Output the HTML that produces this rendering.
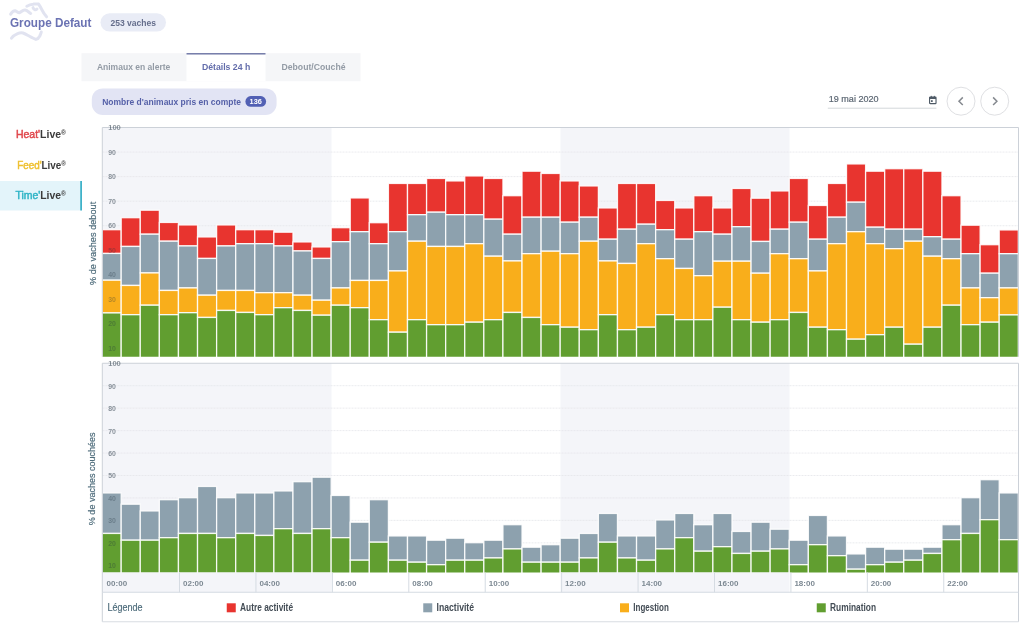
<!DOCTYPE html>
<html lang="fr"><head><meta charset="utf-8"><title>Time'Live</title>
<style>
html,body{margin:0;padding:0;background:#fff}
body{width:1024px;height:628px;position:relative;overflow:hidden;font-family:"Liberation Sans",sans-serif}
</style></head><body>
<svg width="1024" height="628" viewBox="0 0 1024 628" style="position:absolute;left:0;top:0">
<g fill="none" stroke="#dadded" stroke-width="3" stroke-linecap="round" stroke-linejoin="round" opacity="0.8"><path d="M10.7 14.1 C12 12 14 10.5 15.5 10.8 C17 11.5 18 13 19.5 12.8 C21 12 23 9.5 25.2 10 C27.5 10.5 29 12.5 30.6 13.5"/><path d="M26.8 6.3 C29 5 31 4.3 33 4.2 C35 4 37 3.7 38.5 4 C40 6 41 8 42 10 C43.5 13 45 15 46.6 16.8"/><path d="M33 7.6 C33.5 9.5 35.5 10.5 37 9"/><path d="M11.5 38.2 C13 36 15.5 34.5 17.6 33.6 C19.5 32.8 21.5 32.6 23 33 C26 34 28 35.5 30.6 36.8 C33 38 34.5 39.2 36 39.4 C38 39 39.3 37 39.8 36 C40.5 34.5 41 33 41.3 32"/></g>
<text x="10.00" y="26.80" font-family="Liberation Sans, sans-serif" font-size="12.5" font-weight="bold" fill="#6b73b3" textLength="81.40" lengthAdjust="spacingAndGlyphs">Groupe Defaut</text>
<rect x="100.50" y="13.20" width="65.50" height="18.40" fill="#e9ecf6" rx="9.2"/>
<text x="110.40" y="26.00" font-family="Liberation Sans, sans-serif" font-size="9" font-weight="bold" fill="#656e8c" textLength="45.60" lengthAdjust="spacingAndGlyphs">253 vaches</text>
<rect x="81.50" y="53.20" width="279.00" height="28.00" fill="#f5f6f8"/>
<rect x="186.50" y="53.20" width="79.00" height="28.00" fill="#ffffff"/>
<rect x="186.50" y="53.10" width="79.00" height="1.40" fill="#6a72a2"/>
<text x="96.90" y="70.00" font-family="Liberation Sans, sans-serif" font-size="9.5" font-weight="bold" fill="#939ba5" textLength="73.40" lengthAdjust="spacingAndGlyphs">Animaux en alerte</text>
<text x="201.90" y="70.00" font-family="Liberation Sans, sans-serif" font-size="9.5" font-weight="bold" fill="#636dab" textLength="48.40" lengthAdjust="spacingAndGlyphs">Détails 24 h</text>
<text x="281.50" y="70.00" font-family="Liberation Sans, sans-serif" font-size="9.5" font-weight="bold" fill="#939ba5" textLength="64.00" lengthAdjust="spacingAndGlyphs">Debout/Couché</text>
<rect x="91.80" y="88.40" width="184.80" height="26.60" fill="#e2e4f4" rx="11"/>
<text x="102.20" y="104.70" font-family="Liberation Sans, sans-serif" font-size="9.5" font-weight="bold" fill="#5560a8" textLength="138.80" lengthAdjust="spacingAndGlyphs">Nombre d'animaux pris en compte</text>
<rect x="245.40" y="96.10" width="20.70" height="10.60" fill="#5260b4" rx="5.3"/>
<text x="249.60" y="103.80" font-family="Liberation Sans, sans-serif" font-size="6.3" font-weight="bold" fill="#ffffff" textLength="12.30" lengthAdjust="spacingAndGlyphs">136</text>
<rect x="0.00" y="181.00" width="80.20" height="29.50" fill="#e3f4fa"/>
<rect x="80.20" y="181.00" width="1.80" height="29.50" fill="#3fb2c9"/>
<text x="15.9" y="138.3" font-family="Liberation Sans, sans-serif" font-size="10.2" fill="#3b3b3b" textLength="50.10" lengthAdjust="spacingAndGlyphs"><tspan fill="#e0474c" stroke="#e0474c" stroke-width="0.45">Heat'</tspan><tspan font-weight="bold">Live</tspan><tspan font-size="6.5" dy="-3" font-weight="bold">®</tspan></text>
<text x="17.2" y="168.8" font-family="Liberation Sans, sans-serif" font-size="10.2" fill="#3b3b3b" textLength="48.80" lengthAdjust="spacingAndGlyphs"><tspan fill="#efc02f" stroke="#efc02f" stroke-width="0.45">Feed'</tspan><tspan font-weight="bold">Live</tspan><tspan font-size="6.5" dy="-3" font-weight="bold">®</tspan></text>
<text x="15.4" y="198.6" font-family="Liberation Sans, sans-serif" font-size="10.2" fill="#3b3b3b" textLength="50.60" lengthAdjust="spacingAndGlyphs"><tspan fill="#2fb4c6" stroke="#2fb4c6" stroke-width="0.45">Time'</tspan><tspan font-weight="bold">Live</tspan><tspan font-size="6.5" dy="-3" font-weight="bold">®</tspan></text>
<text x="828.80" y="102.20" font-family="Liberation Sans, sans-serif" font-size="9.6" font-weight="normal" fill="#5b6672" textLength="49.70" lengthAdjust="spacingAndGlyphs" stroke="#5b6672" stroke-width="0.2">19 mai 2020</text>
<rect x="827.80" y="107.70" width="108.60" height="1.00" fill="#d3d7db"/>
<g transform="translate(932.8,99.85) scale(0.87) translate(-4.9,-5.4)"><rect x="1.2" y="2.2" width="7.4" height="7.6" rx="0.8" fill="none" stroke="#4d5965" stroke-width="1.3"/><rect x="1.2" y="2.2" width="7.4" height="2.2" fill="#4d5965"/><rect x="2.6" y="0.8" width="1.1" height="2" fill="#4d5965"/><rect x="6.1" y="0.8" width="1.1" height="2" fill="#4d5965"/><rect x="2.8" y="5.8" width="2" height="2" fill="#4d5965"/></g>
<circle cx="961" cy="101.2" r="14" fill="#fff" stroke="#dfe0e3" stroke-width="1"/>
<circle cx="994.7" cy="101.2" r="14" fill="#fff" stroke="#dfe0e3" stroke-width="1"/>
<path d="M962.8 97.4 L959 101.2 L962.8 105" fill="none" stroke="#85898f" stroke-width="1.5"/>
<path d="M993.1 97.4 L996.9 101.2 L993.1 105" fill="none" stroke="#85898f" stroke-width="1.5"/>
<rect x="102.50" y="127.50" width="229.00" height="229.25" fill="#f4f5f9"/>
<rect x="102.50" y="363.25" width="229.00" height="229.00" fill="#f4f5f9"/>
<rect x="560.50" y="127.50" width="229.00" height="229.25" fill="#f4f5f9"/>
<rect x="560.50" y="363.25" width="229.00" height="229.00" fill="#f4f5f9"/>
<line x1="102.5" x2="1018.5" y1="152.06" y2="152.06" stroke="#e4e6ea" stroke-width="0.8" stroke-dasharray="2 1"/>
<line x1="102.5" x2="1018.5" y1="176.62" y2="176.62" stroke="#e4e6ea" stroke-width="0.8" stroke-dasharray="2 1"/>
<line x1="102.5" x2="1018.5" y1="201.18" y2="201.18" stroke="#e4e6ea" stroke-width="0.8" stroke-dasharray="2 1"/>
<line x1="102.5" x2="1018.5" y1="225.74" y2="225.74" stroke="#e4e6ea" stroke-width="0.8" stroke-dasharray="2 1"/>
<line x1="102.5" x2="1018.5" y1="250.30" y2="250.30" stroke="#e4e6ea" stroke-width="0.8" stroke-dasharray="2 1"/>
<line x1="102.5" x2="1018.5" y1="274.86" y2="274.86" stroke="#e4e6ea" stroke-width="0.8" stroke-dasharray="2 1"/>
<line x1="102.5" x2="1018.5" y1="299.42" y2="299.42" stroke="#e4e6ea" stroke-width="0.8" stroke-dasharray="2 1"/>
<line x1="102.5" x2="1018.5" y1="323.98" y2="323.98" stroke="#e4e6ea" stroke-width="0.8" stroke-dasharray="2 1"/>
<line x1="102.5" x2="1018.5" y1="348.54" y2="348.54" stroke="#e4e6ea" stroke-width="0.8" stroke-dasharray="2 1"/>
<line x1="102.5" x2="1018.5" y1="385.70" y2="385.70" stroke="#e4e6ea" stroke-width="0.8" stroke-dasharray="2 1"/>
<line x1="102.5" x2="1018.5" y1="408.15" y2="408.15" stroke="#e4e6ea" stroke-width="0.8" stroke-dasharray="2 1"/>
<line x1="102.5" x2="1018.5" y1="430.60" y2="430.60" stroke="#e4e6ea" stroke-width="0.8" stroke-dasharray="2 1"/>
<line x1="102.5" x2="1018.5" y1="453.05" y2="453.05" stroke="#e4e6ea" stroke-width="0.8" stroke-dasharray="2 1"/>
<line x1="102.5" x2="1018.5" y1="475.50" y2="475.50" stroke="#e4e6ea" stroke-width="0.8" stroke-dasharray="2 1"/>
<line x1="102.5" x2="1018.5" y1="497.95" y2="497.95" stroke="#e4e6ea" stroke-width="0.8" stroke-dasharray="2 1"/>
<line x1="102.5" x2="1018.5" y1="520.40" y2="520.40" stroke="#e4e6ea" stroke-width="0.8" stroke-dasharray="2 1"/>
<line x1="102.5" x2="1018.5" y1="542.85" y2="542.85" stroke="#e4e6ea" stroke-width="0.8" stroke-dasharray="2 1"/>
<line x1="102.5" x2="1018.5" y1="565.30" y2="565.30" stroke="#e4e6ea" stroke-width="0.8" stroke-dasharray="2 1"/>
<rect x="102.10" y="229.70" width="19.09" height="23.75" fill="#e8342f" stroke="#fff" stroke-width="1.3" stroke-opacity="0.88"/>
<rect x="102.10" y="253.45" width="19.09" height="26.75" fill="#8da1ae" stroke="#fff" stroke-width="1.3" stroke-opacity="0.88"/>
<rect x="102.10" y="280.20" width="19.09" height="32.75" fill="#f9ae1b" stroke="#fff" stroke-width="1.3" stroke-opacity="0.88"/>
<rect x="102.10" y="312.95" width="19.09" height="45.80" fill="#619e30" stroke="#fff" stroke-width="1.3" stroke-opacity="0.88"/>
<rect x="121.19" y="217.70" width="19.09" height="28.75" fill="#e8342f" stroke="#fff" stroke-width="1.3" stroke-opacity="0.88"/>
<rect x="121.19" y="246.45" width="19.09" height="39.00" fill="#8da1ae" stroke="#fff" stroke-width="1.3" stroke-opacity="0.88"/>
<rect x="121.19" y="285.45" width="19.09" height="29.25" fill="#f9ae1b" stroke="#fff" stroke-width="1.3" stroke-opacity="0.88"/>
<rect x="121.19" y="314.70" width="19.09" height="44.05" fill="#619e30" stroke="#fff" stroke-width="1.3" stroke-opacity="0.88"/>
<rect x="140.27" y="210.20" width="19.09" height="24.00" fill="#e8342f" stroke="#fff" stroke-width="1.3" stroke-opacity="0.88"/>
<rect x="140.27" y="234.20" width="19.09" height="38.75" fill="#8da1ae" stroke="#fff" stroke-width="1.3" stroke-opacity="0.88"/>
<rect x="140.27" y="272.95" width="19.09" height="32.25" fill="#f9ae1b" stroke="#fff" stroke-width="1.3" stroke-opacity="0.88"/>
<rect x="140.27" y="305.20" width="19.09" height="53.55" fill="#619e30" stroke="#fff" stroke-width="1.3" stroke-opacity="0.88"/>
<rect x="159.36" y="222.45" width="19.09" height="18.75" fill="#e8342f" stroke="#fff" stroke-width="1.3" stroke-opacity="0.88"/>
<rect x="159.36" y="241.20" width="19.09" height="49.25" fill="#8da1ae" stroke="#fff" stroke-width="1.3" stroke-opacity="0.88"/>
<rect x="159.36" y="290.45" width="19.09" height="24.25" fill="#f9ae1b" stroke="#fff" stroke-width="1.3" stroke-opacity="0.88"/>
<rect x="159.36" y="314.70" width="19.09" height="44.05" fill="#619e30" stroke="#fff" stroke-width="1.3" stroke-opacity="0.88"/>
<rect x="178.45" y="224.95" width="19.09" height="21.00" fill="#e8342f" stroke="#fff" stroke-width="1.3" stroke-opacity="0.88"/>
<rect x="178.45" y="245.95" width="19.09" height="42.00" fill="#8da1ae" stroke="#fff" stroke-width="1.3" stroke-opacity="0.88"/>
<rect x="178.45" y="287.95" width="19.09" height="24.75" fill="#f9ae1b" stroke="#fff" stroke-width="1.3" stroke-opacity="0.88"/>
<rect x="178.45" y="312.70" width="19.09" height="46.05" fill="#619e30" stroke="#fff" stroke-width="1.3" stroke-opacity="0.88"/>
<rect x="197.54" y="236.95" width="19.09" height="21.50" fill="#e8342f" stroke="#fff" stroke-width="1.3" stroke-opacity="0.88"/>
<rect x="197.54" y="258.45" width="19.09" height="36.75" fill="#8da1ae" stroke="#fff" stroke-width="1.3" stroke-opacity="0.88"/>
<rect x="197.54" y="295.20" width="19.09" height="22.25" fill="#f9ae1b" stroke="#fff" stroke-width="1.3" stroke-opacity="0.88"/>
<rect x="197.54" y="317.45" width="19.09" height="41.30" fill="#619e30" stroke="#fff" stroke-width="1.3" stroke-opacity="0.88"/>
<rect x="216.62" y="224.95" width="19.09" height="21.00" fill="#e8342f" stroke="#fff" stroke-width="1.3" stroke-opacity="0.88"/>
<rect x="216.62" y="245.95" width="19.09" height="44.50" fill="#8da1ae" stroke="#fff" stroke-width="1.3" stroke-opacity="0.88"/>
<rect x="216.62" y="290.45" width="19.09" height="20.00" fill="#f9ae1b" stroke="#fff" stroke-width="1.3" stroke-opacity="0.88"/>
<rect x="216.62" y="310.45" width="19.09" height="48.30" fill="#619e30" stroke="#fff" stroke-width="1.3" stroke-opacity="0.88"/>
<rect x="235.71" y="229.70" width="19.09" height="14.00" fill="#e8342f" stroke="#fff" stroke-width="1.3" stroke-opacity="0.88"/>
<rect x="235.71" y="243.70" width="19.09" height="46.75" fill="#8da1ae" stroke="#fff" stroke-width="1.3" stroke-opacity="0.88"/>
<rect x="235.71" y="290.45" width="19.09" height="22.00" fill="#f9ae1b" stroke="#fff" stroke-width="1.3" stroke-opacity="0.88"/>
<rect x="235.71" y="312.45" width="19.09" height="46.30" fill="#619e30" stroke="#fff" stroke-width="1.3" stroke-opacity="0.88"/>
<rect x="254.80" y="229.70" width="19.09" height="14.00" fill="#e8342f" stroke="#fff" stroke-width="1.3" stroke-opacity="0.88"/>
<rect x="254.80" y="243.70" width="19.09" height="49.00" fill="#8da1ae" stroke="#fff" stroke-width="1.3" stroke-opacity="0.88"/>
<rect x="254.80" y="292.70" width="19.09" height="22.00" fill="#f9ae1b" stroke="#fff" stroke-width="1.3" stroke-opacity="0.88"/>
<rect x="254.80" y="314.70" width="19.09" height="44.05" fill="#619e30" stroke="#fff" stroke-width="1.3" stroke-opacity="0.88"/>
<rect x="273.89" y="232.20" width="19.09" height="13.75" fill="#e8342f" stroke="#fff" stroke-width="1.3" stroke-opacity="0.88"/>
<rect x="273.89" y="245.95" width="19.09" height="46.75" fill="#8da1ae" stroke="#fff" stroke-width="1.3" stroke-opacity="0.88"/>
<rect x="273.89" y="292.70" width="19.09" height="15.00" fill="#f9ae1b" stroke="#fff" stroke-width="1.3" stroke-opacity="0.88"/>
<rect x="273.89" y="307.70" width="19.09" height="51.05" fill="#619e30" stroke="#fff" stroke-width="1.3" stroke-opacity="0.88"/>
<rect x="292.98" y="241.95" width="19.09" height="9.00" fill="#e8342f" stroke="#fff" stroke-width="1.3" stroke-opacity="0.88"/>
<rect x="292.98" y="250.95" width="19.09" height="44.25" fill="#8da1ae" stroke="#fff" stroke-width="1.3" stroke-opacity="0.88"/>
<rect x="292.98" y="295.20" width="19.09" height="15.25" fill="#f9ae1b" stroke="#fff" stroke-width="1.3" stroke-opacity="0.88"/>
<rect x="292.98" y="310.45" width="19.09" height="48.30" fill="#619e30" stroke="#fff" stroke-width="1.3" stroke-opacity="0.88"/>
<rect x="312.06" y="246.95" width="19.09" height="11.50" fill="#e8342f" stroke="#fff" stroke-width="1.3" stroke-opacity="0.88"/>
<rect x="312.06" y="258.45" width="19.09" height="41.75" fill="#8da1ae" stroke="#fff" stroke-width="1.3" stroke-opacity="0.88"/>
<rect x="312.06" y="300.20" width="19.09" height="15.00" fill="#f9ae1b" stroke="#fff" stroke-width="1.3" stroke-opacity="0.88"/>
<rect x="312.06" y="315.20" width="19.09" height="43.55" fill="#619e30" stroke="#fff" stroke-width="1.3" stroke-opacity="0.88"/>
<rect x="331.15" y="227.70" width="19.09" height="14.00" fill="#e8342f" stroke="#fff" stroke-width="1.3" stroke-opacity="0.88"/>
<rect x="331.15" y="241.70" width="19.09" height="46.25" fill="#8da1ae" stroke="#fff" stroke-width="1.3" stroke-opacity="0.88"/>
<rect x="331.15" y="287.95" width="19.09" height="17.25" fill="#f9ae1b" stroke="#fff" stroke-width="1.3" stroke-opacity="0.88"/>
<rect x="331.15" y="305.20" width="19.09" height="53.55" fill="#619e30" stroke="#fff" stroke-width="1.3" stroke-opacity="0.88"/>
<rect x="350.24" y="197.95" width="19.09" height="33.75" fill="#e8342f" stroke="#fff" stroke-width="1.3" stroke-opacity="0.88"/>
<rect x="350.24" y="231.70" width="19.09" height="48.75" fill="#8da1ae" stroke="#fff" stroke-width="1.3" stroke-opacity="0.88"/>
<rect x="350.24" y="280.45" width="19.09" height="27.25" fill="#f9ae1b" stroke="#fff" stroke-width="1.3" stroke-opacity="0.88"/>
<rect x="350.24" y="307.70" width="19.09" height="51.05" fill="#619e30" stroke="#fff" stroke-width="1.3" stroke-opacity="0.88"/>
<rect x="369.32" y="222.70" width="19.09" height="21.00" fill="#e8342f" stroke="#fff" stroke-width="1.3" stroke-opacity="0.88"/>
<rect x="369.32" y="243.70" width="19.09" height="36.75" fill="#8da1ae" stroke="#fff" stroke-width="1.3" stroke-opacity="0.88"/>
<rect x="369.32" y="280.45" width="19.09" height="39.25" fill="#f9ae1b" stroke="#fff" stroke-width="1.3" stroke-opacity="0.88"/>
<rect x="369.32" y="319.70" width="19.09" height="39.05" fill="#619e30" stroke="#fff" stroke-width="1.3" stroke-opacity="0.88"/>
<rect x="388.41" y="183.45" width="19.09" height="48.25" fill="#e8342f" stroke="#fff" stroke-width="1.3" stroke-opacity="0.88"/>
<rect x="388.41" y="231.70" width="19.09" height="39.25" fill="#8da1ae" stroke="#fff" stroke-width="1.3" stroke-opacity="0.88"/>
<rect x="388.41" y="270.95" width="19.09" height="61.25" fill="#f9ae1b" stroke="#fff" stroke-width="1.3" stroke-opacity="0.88"/>
<rect x="388.41" y="332.20" width="19.09" height="26.55" fill="#619e30" stroke="#fff" stroke-width="1.3" stroke-opacity="0.88"/>
<rect x="407.50" y="183.45" width="19.09" height="31.25" fill="#e8342f" stroke="#fff" stroke-width="1.3" stroke-opacity="0.88"/>
<rect x="407.50" y="214.70" width="19.09" height="26.50" fill="#8da1ae" stroke="#fff" stroke-width="1.3" stroke-opacity="0.88"/>
<rect x="407.50" y="241.20" width="19.09" height="78.50" fill="#f9ae1b" stroke="#fff" stroke-width="1.3" stroke-opacity="0.88"/>
<rect x="407.50" y="319.70" width="19.09" height="39.05" fill="#619e30" stroke="#fff" stroke-width="1.3" stroke-opacity="0.88"/>
<rect x="426.59" y="178.45" width="19.09" height="33.75" fill="#e8342f" stroke="#fff" stroke-width="1.3" stroke-opacity="0.88"/>
<rect x="426.59" y="212.20" width="19.09" height="34.25" fill="#8da1ae" stroke="#fff" stroke-width="1.3" stroke-opacity="0.88"/>
<rect x="426.59" y="246.45" width="19.09" height="78.25" fill="#f9ae1b" stroke="#fff" stroke-width="1.3" stroke-opacity="0.88"/>
<rect x="426.59" y="324.70" width="19.09" height="34.05" fill="#619e30" stroke="#fff" stroke-width="1.3" stroke-opacity="0.88"/>
<rect x="445.67" y="180.95" width="19.09" height="33.75" fill="#e8342f" stroke="#fff" stroke-width="1.3" stroke-opacity="0.88"/>
<rect x="445.67" y="214.70" width="19.09" height="31.75" fill="#8da1ae" stroke="#fff" stroke-width="1.3" stroke-opacity="0.88"/>
<rect x="445.67" y="246.45" width="19.09" height="78.25" fill="#f9ae1b" stroke="#fff" stroke-width="1.3" stroke-opacity="0.88"/>
<rect x="445.67" y="324.70" width="19.09" height="34.05" fill="#619e30" stroke="#fff" stroke-width="1.3" stroke-opacity="0.88"/>
<rect x="464.76" y="175.95" width="19.09" height="38.75" fill="#e8342f" stroke="#fff" stroke-width="1.3" stroke-opacity="0.88"/>
<rect x="464.76" y="214.70" width="19.09" height="29.00" fill="#8da1ae" stroke="#fff" stroke-width="1.3" stroke-opacity="0.88"/>
<rect x="464.76" y="243.70" width="19.09" height="78.50" fill="#f9ae1b" stroke="#fff" stroke-width="1.3" stroke-opacity="0.88"/>
<rect x="464.76" y="322.20" width="19.09" height="36.55" fill="#619e30" stroke="#fff" stroke-width="1.3" stroke-opacity="0.88"/>
<rect x="483.85" y="178.45" width="19.09" height="40.75" fill="#e8342f" stroke="#fff" stroke-width="1.3" stroke-opacity="0.88"/>
<rect x="483.85" y="219.20" width="19.09" height="37.00" fill="#8da1ae" stroke="#fff" stroke-width="1.3" stroke-opacity="0.88"/>
<rect x="483.85" y="256.20" width="19.09" height="63.50" fill="#f9ae1b" stroke="#fff" stroke-width="1.3" stroke-opacity="0.88"/>
<rect x="483.85" y="319.70" width="19.09" height="39.05" fill="#619e30" stroke="#fff" stroke-width="1.3" stroke-opacity="0.88"/>
<rect x="502.94" y="195.70" width="19.09" height="38.50" fill="#e8342f" stroke="#fff" stroke-width="1.3" stroke-opacity="0.88"/>
<rect x="502.94" y="234.20" width="19.09" height="26.75" fill="#8da1ae" stroke="#fff" stroke-width="1.3" stroke-opacity="0.88"/>
<rect x="502.94" y="260.95" width="19.09" height="51.50" fill="#f9ae1b" stroke="#fff" stroke-width="1.3" stroke-opacity="0.88"/>
<rect x="502.94" y="312.45" width="19.09" height="46.30" fill="#619e30" stroke="#fff" stroke-width="1.3" stroke-opacity="0.88"/>
<rect x="522.02" y="171.20" width="19.09" height="46.00" fill="#e8342f" stroke="#fff" stroke-width="1.3" stroke-opacity="0.88"/>
<rect x="522.02" y="217.20" width="19.09" height="36.50" fill="#8da1ae" stroke="#fff" stroke-width="1.3" stroke-opacity="0.88"/>
<rect x="522.02" y="253.70" width="19.09" height="63.75" fill="#f9ae1b" stroke="#fff" stroke-width="1.3" stroke-opacity="0.88"/>
<rect x="522.02" y="317.45" width="19.09" height="41.30" fill="#619e30" stroke="#fff" stroke-width="1.3" stroke-opacity="0.88"/>
<rect x="541.11" y="173.45" width="19.09" height="43.75" fill="#e8342f" stroke="#fff" stroke-width="1.3" stroke-opacity="0.88"/>
<rect x="541.11" y="217.20" width="19.09" height="34.00" fill="#8da1ae" stroke="#fff" stroke-width="1.3" stroke-opacity="0.88"/>
<rect x="541.11" y="251.20" width="19.09" height="73.50" fill="#f9ae1b" stroke="#fff" stroke-width="1.3" stroke-opacity="0.88"/>
<rect x="541.11" y="324.70" width="19.09" height="34.05" fill="#619e30" stroke="#fff" stroke-width="1.3" stroke-opacity="0.88"/>
<rect x="560.20" y="180.95" width="19.09" height="41.25" fill="#e8342f" stroke="#fff" stroke-width="1.3" stroke-opacity="0.88"/>
<rect x="560.20" y="222.20" width="19.09" height="31.50" fill="#8da1ae" stroke="#fff" stroke-width="1.3" stroke-opacity="0.88"/>
<rect x="560.20" y="253.70" width="19.09" height="73.50" fill="#f9ae1b" stroke="#fff" stroke-width="1.3" stroke-opacity="0.88"/>
<rect x="560.20" y="327.20" width="19.09" height="31.55" fill="#619e30" stroke="#fff" stroke-width="1.3" stroke-opacity="0.88"/>
<rect x="579.29" y="185.95" width="19.09" height="31.25" fill="#e8342f" stroke="#fff" stroke-width="1.3" stroke-opacity="0.88"/>
<rect x="579.29" y="217.20" width="19.09" height="24.00" fill="#8da1ae" stroke="#fff" stroke-width="1.3" stroke-opacity="0.88"/>
<rect x="579.29" y="241.20" width="19.09" height="88.50" fill="#f9ae1b" stroke="#fff" stroke-width="1.3" stroke-opacity="0.88"/>
<rect x="579.29" y="329.70" width="19.09" height="29.05" fill="#619e30" stroke="#fff" stroke-width="1.3" stroke-opacity="0.88"/>
<rect x="598.38" y="207.95" width="19.09" height="31.25" fill="#e8342f" stroke="#fff" stroke-width="1.3" stroke-opacity="0.88"/>
<rect x="598.38" y="239.20" width="19.09" height="21.75" fill="#8da1ae" stroke="#fff" stroke-width="1.3" stroke-opacity="0.88"/>
<rect x="598.38" y="260.95" width="19.09" height="53.75" fill="#f9ae1b" stroke="#fff" stroke-width="1.3" stroke-opacity="0.88"/>
<rect x="598.38" y="314.70" width="19.09" height="44.05" fill="#619e30" stroke="#fff" stroke-width="1.3" stroke-opacity="0.88"/>
<rect x="617.46" y="183.45" width="19.09" height="45.75" fill="#e8342f" stroke="#fff" stroke-width="1.3" stroke-opacity="0.88"/>
<rect x="617.46" y="229.20" width="19.09" height="34.25" fill="#8da1ae" stroke="#fff" stroke-width="1.3" stroke-opacity="0.88"/>
<rect x="617.46" y="263.45" width="19.09" height="66.25" fill="#f9ae1b" stroke="#fff" stroke-width="1.3" stroke-opacity="0.88"/>
<rect x="617.46" y="329.70" width="19.09" height="29.05" fill="#619e30" stroke="#fff" stroke-width="1.3" stroke-opacity="0.88"/>
<rect x="636.55" y="183.45" width="19.09" height="40.75" fill="#e8342f" stroke="#fff" stroke-width="1.3" stroke-opacity="0.88"/>
<rect x="636.55" y="224.20" width="19.09" height="19.50" fill="#8da1ae" stroke="#fff" stroke-width="1.3" stroke-opacity="0.88"/>
<rect x="636.55" y="243.70" width="19.09" height="83.50" fill="#f9ae1b" stroke="#fff" stroke-width="1.3" stroke-opacity="0.88"/>
<rect x="636.55" y="327.20" width="19.09" height="31.55" fill="#619e30" stroke="#fff" stroke-width="1.3" stroke-opacity="0.88"/>
<rect x="655.64" y="200.45" width="19.09" height="29.25" fill="#e8342f" stroke="#fff" stroke-width="1.3" stroke-opacity="0.88"/>
<rect x="655.64" y="229.70" width="19.09" height="29.00" fill="#8da1ae" stroke="#fff" stroke-width="1.3" stroke-opacity="0.88"/>
<rect x="655.64" y="258.70" width="19.09" height="56.00" fill="#f9ae1b" stroke="#fff" stroke-width="1.3" stroke-opacity="0.88"/>
<rect x="655.64" y="314.70" width="19.09" height="44.05" fill="#619e30" stroke="#fff" stroke-width="1.3" stroke-opacity="0.88"/>
<rect x="674.73" y="207.95" width="19.09" height="31.25" fill="#e8342f" stroke="#fff" stroke-width="1.3" stroke-opacity="0.88"/>
<rect x="674.73" y="239.20" width="19.09" height="29.25" fill="#8da1ae" stroke="#fff" stroke-width="1.3" stroke-opacity="0.88"/>
<rect x="674.73" y="268.45" width="19.09" height="51.25" fill="#f9ae1b" stroke="#fff" stroke-width="1.3" stroke-opacity="0.88"/>
<rect x="674.73" y="319.70" width="19.09" height="39.05" fill="#619e30" stroke="#fff" stroke-width="1.3" stroke-opacity="0.88"/>
<rect x="693.81" y="195.70" width="19.09" height="36.00" fill="#e8342f" stroke="#fff" stroke-width="1.3" stroke-opacity="0.88"/>
<rect x="693.81" y="231.70" width="19.09" height="44.00" fill="#8da1ae" stroke="#fff" stroke-width="1.3" stroke-opacity="0.88"/>
<rect x="693.81" y="275.70" width="19.09" height="44.00" fill="#f9ae1b" stroke="#fff" stroke-width="1.3" stroke-opacity="0.88"/>
<rect x="693.81" y="319.70" width="19.09" height="39.05" fill="#619e30" stroke="#fff" stroke-width="1.3" stroke-opacity="0.88"/>
<rect x="712.90" y="207.95" width="19.09" height="26.25" fill="#e8342f" stroke="#fff" stroke-width="1.3" stroke-opacity="0.88"/>
<rect x="712.90" y="234.20" width="19.09" height="27.00" fill="#8da1ae" stroke="#fff" stroke-width="1.3" stroke-opacity="0.88"/>
<rect x="712.90" y="261.20" width="19.09" height="46.00" fill="#f9ae1b" stroke="#fff" stroke-width="1.3" stroke-opacity="0.88"/>
<rect x="712.90" y="307.20" width="19.09" height="51.55" fill="#619e30" stroke="#fff" stroke-width="1.3" stroke-opacity="0.88"/>
<rect x="731.99" y="188.45" width="19.09" height="38.25" fill="#e8342f" stroke="#fff" stroke-width="1.3" stroke-opacity="0.88"/>
<rect x="731.99" y="226.70" width="19.09" height="34.50" fill="#8da1ae" stroke="#fff" stroke-width="1.3" stroke-opacity="0.88"/>
<rect x="731.99" y="261.20" width="19.09" height="58.50" fill="#f9ae1b" stroke="#fff" stroke-width="1.3" stroke-opacity="0.88"/>
<rect x="731.99" y="319.70" width="19.09" height="39.05" fill="#619e30" stroke="#fff" stroke-width="1.3" stroke-opacity="0.88"/>
<rect x="751.07" y="198.20" width="19.09" height="43.25" fill="#e8342f" stroke="#fff" stroke-width="1.3" stroke-opacity="0.88"/>
<rect x="751.07" y="241.45" width="19.09" height="31.75" fill="#8da1ae" stroke="#fff" stroke-width="1.3" stroke-opacity="0.88"/>
<rect x="751.07" y="273.20" width="19.09" height="49.00" fill="#f9ae1b" stroke="#fff" stroke-width="1.3" stroke-opacity="0.88"/>
<rect x="751.07" y="322.20" width="19.09" height="36.55" fill="#619e30" stroke="#fff" stroke-width="1.3" stroke-opacity="0.88"/>
<rect x="770.16" y="190.95" width="19.09" height="38.25" fill="#e8342f" stroke="#fff" stroke-width="1.3" stroke-opacity="0.88"/>
<rect x="770.16" y="229.20" width="19.09" height="24.50" fill="#8da1ae" stroke="#fff" stroke-width="1.3" stroke-opacity="0.88"/>
<rect x="770.16" y="253.70" width="19.09" height="66.00" fill="#f9ae1b" stroke="#fff" stroke-width="1.3" stroke-opacity="0.88"/>
<rect x="770.16" y="319.70" width="19.09" height="39.05" fill="#619e30" stroke="#fff" stroke-width="1.3" stroke-opacity="0.88"/>
<rect x="789.25" y="178.45" width="19.09" height="43.75" fill="#e8342f" stroke="#fff" stroke-width="1.3" stroke-opacity="0.88"/>
<rect x="789.25" y="222.20" width="19.09" height="36.50" fill="#8da1ae" stroke="#fff" stroke-width="1.3" stroke-opacity="0.88"/>
<rect x="789.25" y="258.70" width="19.09" height="53.75" fill="#f9ae1b" stroke="#fff" stroke-width="1.3" stroke-opacity="0.88"/>
<rect x="789.25" y="312.45" width="19.09" height="46.30" fill="#619e30" stroke="#fff" stroke-width="1.3" stroke-opacity="0.88"/>
<rect x="808.34" y="205.45" width="19.09" height="33.75" fill="#e8342f" stroke="#fff" stroke-width="1.3" stroke-opacity="0.88"/>
<rect x="808.34" y="239.20" width="19.09" height="31.75" fill="#8da1ae" stroke="#fff" stroke-width="1.3" stroke-opacity="0.88"/>
<rect x="808.34" y="270.95" width="19.09" height="56.25" fill="#f9ae1b" stroke="#fff" stroke-width="1.3" stroke-opacity="0.88"/>
<rect x="808.34" y="327.20" width="19.09" height="31.55" fill="#619e30" stroke="#fff" stroke-width="1.3" stroke-opacity="0.88"/>
<rect x="827.42" y="183.45" width="19.09" height="33.75" fill="#e8342f" stroke="#fff" stroke-width="1.3" stroke-opacity="0.88"/>
<rect x="827.42" y="217.20" width="19.09" height="26.50" fill="#8da1ae" stroke="#fff" stroke-width="1.3" stroke-opacity="0.88"/>
<rect x="827.42" y="243.70" width="19.09" height="86.00" fill="#f9ae1b" stroke="#fff" stroke-width="1.3" stroke-opacity="0.88"/>
<rect x="827.42" y="329.70" width="19.09" height="29.05" fill="#619e30" stroke="#fff" stroke-width="1.3" stroke-opacity="0.88"/>
<rect x="846.51" y="163.95" width="19.09" height="38.25" fill="#e8342f" stroke="#fff" stroke-width="1.3" stroke-opacity="0.88"/>
<rect x="846.51" y="202.20" width="19.09" height="29.50" fill="#8da1ae" stroke="#fff" stroke-width="1.3" stroke-opacity="0.88"/>
<rect x="846.51" y="231.70" width="19.09" height="107.50" fill="#f9ae1b" stroke="#fff" stroke-width="1.3" stroke-opacity="0.88"/>
<rect x="846.51" y="339.20" width="19.09" height="19.55" fill="#619e30" stroke="#fff" stroke-width="1.3" stroke-opacity="0.88"/>
<rect x="865.60" y="171.20" width="19.09" height="56.00" fill="#e8342f" stroke="#fff" stroke-width="1.3" stroke-opacity="0.88"/>
<rect x="865.60" y="227.20" width="19.09" height="16.50" fill="#8da1ae" stroke="#fff" stroke-width="1.3" stroke-opacity="0.88"/>
<rect x="865.60" y="243.70" width="19.09" height="91.00" fill="#f9ae1b" stroke="#fff" stroke-width="1.3" stroke-opacity="0.88"/>
<rect x="865.60" y="334.70" width="19.09" height="24.05" fill="#619e30" stroke="#fff" stroke-width="1.3" stroke-opacity="0.88"/>
<rect x="884.69" y="168.70" width="19.09" height="60.50" fill="#e8342f" stroke="#fff" stroke-width="1.3" stroke-opacity="0.88"/>
<rect x="884.69" y="229.20" width="19.09" height="19.50" fill="#8da1ae" stroke="#fff" stroke-width="1.3" stroke-opacity="0.88"/>
<rect x="884.69" y="248.70" width="19.09" height="78.50" fill="#f9ae1b" stroke="#fff" stroke-width="1.3" stroke-opacity="0.88"/>
<rect x="884.69" y="327.20" width="19.09" height="31.55" fill="#619e30" stroke="#fff" stroke-width="1.3" stroke-opacity="0.88"/>
<rect x="903.77" y="168.70" width="19.09" height="60.50" fill="#e8342f" stroke="#fff" stroke-width="1.3" stroke-opacity="0.88"/>
<rect x="903.77" y="229.20" width="19.09" height="12.00" fill="#8da1ae" stroke="#fff" stroke-width="1.3" stroke-opacity="0.88"/>
<rect x="903.77" y="241.20" width="19.09" height="103.00" fill="#f9ae1b" stroke="#fff" stroke-width="1.3" stroke-opacity="0.88"/>
<rect x="903.77" y="344.20" width="19.09" height="14.55" fill="#619e30" stroke="#fff" stroke-width="1.3" stroke-opacity="0.88"/>
<rect x="922.86" y="171.20" width="19.09" height="65.50" fill="#e8342f" stroke="#fff" stroke-width="1.3" stroke-opacity="0.88"/>
<rect x="922.86" y="236.70" width="19.09" height="19.50" fill="#8da1ae" stroke="#fff" stroke-width="1.3" stroke-opacity="0.88"/>
<rect x="922.86" y="256.20" width="19.09" height="71.00" fill="#f9ae1b" stroke="#fff" stroke-width="1.3" stroke-opacity="0.88"/>
<rect x="922.86" y="327.20" width="19.09" height="31.55" fill="#619e30" stroke="#fff" stroke-width="1.3" stroke-opacity="0.88"/>
<rect x="941.95" y="195.70" width="19.09" height="43.50" fill="#e8342f" stroke="#fff" stroke-width="1.3" stroke-opacity="0.88"/>
<rect x="941.95" y="239.20" width="19.09" height="19.50" fill="#8da1ae" stroke="#fff" stroke-width="1.3" stroke-opacity="0.88"/>
<rect x="941.95" y="258.70" width="19.09" height="46.50" fill="#f9ae1b" stroke="#fff" stroke-width="1.3" stroke-opacity="0.88"/>
<rect x="941.95" y="305.20" width="19.09" height="53.55" fill="#619e30" stroke="#fff" stroke-width="1.3" stroke-opacity="0.88"/>
<rect x="961.04" y="225.20" width="19.09" height="28.50" fill="#e8342f" stroke="#fff" stroke-width="1.3" stroke-opacity="0.88"/>
<rect x="961.04" y="253.70" width="19.09" height="34.25" fill="#8da1ae" stroke="#fff" stroke-width="1.3" stroke-opacity="0.88"/>
<rect x="961.04" y="287.95" width="19.09" height="36.75" fill="#f9ae1b" stroke="#fff" stroke-width="1.3" stroke-opacity="0.88"/>
<rect x="961.04" y="324.70" width="19.09" height="34.05" fill="#619e30" stroke="#fff" stroke-width="1.3" stroke-opacity="0.88"/>
<rect x="980.12" y="244.70" width="19.09" height="28.50" fill="#e8342f" stroke="#fff" stroke-width="1.3" stroke-opacity="0.88"/>
<rect x="980.12" y="273.20" width="19.09" height="24.50" fill="#8da1ae" stroke="#fff" stroke-width="1.3" stroke-opacity="0.88"/>
<rect x="980.12" y="297.70" width="19.09" height="24.50" fill="#f9ae1b" stroke="#fff" stroke-width="1.3" stroke-opacity="0.88"/>
<rect x="980.12" y="322.20" width="19.09" height="36.55" fill="#619e30" stroke="#fff" stroke-width="1.3" stroke-opacity="0.88"/>
<rect x="999.21" y="229.95" width="19.09" height="23.75" fill="#e8342f" stroke="#fff" stroke-width="1.3" stroke-opacity="0.88"/>
<rect x="999.21" y="253.70" width="19.09" height="34.25" fill="#8da1ae" stroke="#fff" stroke-width="1.3" stroke-opacity="0.88"/>
<rect x="999.21" y="287.95" width="19.09" height="27.00" fill="#f9ae1b" stroke="#fff" stroke-width="1.3" stroke-opacity="0.88"/>
<rect x="999.21" y="314.95" width="19.09" height="43.80" fill="#619e30" stroke="#fff" stroke-width="1.3" stroke-opacity="0.88"/>
<rect x="90.00" y="356.75" width="940.00" height="6.00" fill="#fff"/>
<rect x="102.10" y="492.95" width="19.09" height="40.50" fill="#8da1ae" stroke="#fff" stroke-width="1.3" stroke-opacity="0.88"/>
<rect x="102.10" y="533.45" width="19.09" height="41.05" fill="#619e30" stroke="#fff" stroke-width="1.3" stroke-opacity="0.88"/>
<rect x="121.19" y="504.20" width="19.09" height="36.00" fill="#8da1ae" stroke="#fff" stroke-width="1.3" stroke-opacity="0.88"/>
<rect x="121.19" y="540.20" width="19.09" height="34.30" fill="#619e30" stroke="#fff" stroke-width="1.3" stroke-opacity="0.88"/>
<rect x="140.27" y="510.95" width="19.09" height="29.25" fill="#8da1ae" stroke="#fff" stroke-width="1.3" stroke-opacity="0.88"/>
<rect x="140.27" y="540.20" width="19.09" height="34.30" fill="#619e30" stroke="#fff" stroke-width="1.3" stroke-opacity="0.88"/>
<rect x="159.36" y="499.70" width="19.09" height="38.00" fill="#8da1ae" stroke="#fff" stroke-width="1.3" stroke-opacity="0.88"/>
<rect x="159.36" y="537.70" width="19.09" height="36.80" fill="#619e30" stroke="#fff" stroke-width="1.3" stroke-opacity="0.88"/>
<rect x="178.45" y="497.70" width="19.09" height="35.75" fill="#8da1ae" stroke="#fff" stroke-width="1.3" stroke-opacity="0.88"/>
<rect x="178.45" y="533.45" width="19.09" height="41.05" fill="#619e30" stroke="#fff" stroke-width="1.3" stroke-opacity="0.88"/>
<rect x="197.54" y="486.45" width="19.09" height="47.00" fill="#8da1ae" stroke="#fff" stroke-width="1.3" stroke-opacity="0.88"/>
<rect x="197.54" y="533.45" width="19.09" height="41.05" fill="#619e30" stroke="#fff" stroke-width="1.3" stroke-opacity="0.88"/>
<rect x="216.62" y="497.70" width="19.09" height="40.00" fill="#8da1ae" stroke="#fff" stroke-width="1.3" stroke-opacity="0.88"/>
<rect x="216.62" y="537.70" width="19.09" height="36.80" fill="#619e30" stroke="#fff" stroke-width="1.3" stroke-opacity="0.88"/>
<rect x="235.71" y="492.95" width="19.09" height="40.50" fill="#8da1ae" stroke="#fff" stroke-width="1.3" stroke-opacity="0.88"/>
<rect x="235.71" y="533.45" width="19.09" height="41.05" fill="#619e30" stroke="#fff" stroke-width="1.3" stroke-opacity="0.88"/>
<rect x="254.80" y="492.95" width="19.09" height="42.50" fill="#8da1ae" stroke="#fff" stroke-width="1.3" stroke-opacity="0.88"/>
<rect x="254.80" y="535.45" width="19.09" height="39.05" fill="#619e30" stroke="#fff" stroke-width="1.3" stroke-opacity="0.88"/>
<rect x="273.89" y="490.95" width="19.09" height="37.75" fill="#8da1ae" stroke="#fff" stroke-width="1.3" stroke-opacity="0.88"/>
<rect x="273.89" y="528.70" width="19.09" height="45.80" fill="#619e30" stroke="#fff" stroke-width="1.3" stroke-opacity="0.88"/>
<rect x="292.98" y="481.70" width="19.09" height="51.75" fill="#8da1ae" stroke="#fff" stroke-width="1.3" stroke-opacity="0.88"/>
<rect x="292.98" y="533.45" width="19.09" height="41.05" fill="#619e30" stroke="#fff" stroke-width="1.3" stroke-opacity="0.88"/>
<rect x="312.06" y="477.20" width="19.09" height="51.50" fill="#8da1ae" stroke="#fff" stroke-width="1.3" stroke-opacity="0.88"/>
<rect x="312.06" y="528.70" width="19.09" height="45.80" fill="#619e30" stroke="#fff" stroke-width="1.3" stroke-opacity="0.88"/>
<rect x="331.15" y="495.45" width="19.09" height="42.25" fill="#8da1ae" stroke="#fff" stroke-width="1.3" stroke-opacity="0.88"/>
<rect x="331.15" y="537.70" width="19.09" height="36.80" fill="#619e30" stroke="#fff" stroke-width="1.3" stroke-opacity="0.88"/>
<rect x="350.24" y="522.20" width="19.09" height="38.00" fill="#8da1ae" stroke="#fff" stroke-width="1.3" stroke-opacity="0.88"/>
<rect x="350.24" y="560.20" width="19.09" height="14.30" fill="#619e30" stroke="#fff" stroke-width="1.3" stroke-opacity="0.88"/>
<rect x="369.32" y="499.70" width="19.09" height="42.50" fill="#8da1ae" stroke="#fff" stroke-width="1.3" stroke-opacity="0.88"/>
<rect x="369.32" y="542.20" width="19.09" height="32.30" fill="#619e30" stroke="#fff" stroke-width="1.3" stroke-opacity="0.88"/>
<rect x="388.41" y="535.95" width="19.09" height="24.25" fill="#8da1ae" stroke="#fff" stroke-width="1.3" stroke-opacity="0.88"/>
<rect x="388.41" y="560.20" width="19.09" height="14.30" fill="#619e30" stroke="#fff" stroke-width="1.3" stroke-opacity="0.88"/>
<rect x="407.50" y="535.95" width="19.09" height="26.25" fill="#8da1ae" stroke="#fff" stroke-width="1.3" stroke-opacity="0.88"/>
<rect x="407.50" y="562.20" width="19.09" height="12.30" fill="#619e30" stroke="#fff" stroke-width="1.3" stroke-opacity="0.88"/>
<rect x="426.59" y="540.20" width="19.09" height="24.50" fill="#8da1ae" stroke="#fff" stroke-width="1.3" stroke-opacity="0.88"/>
<rect x="426.59" y="564.70" width="19.09" height="9.80" fill="#619e30" stroke="#fff" stroke-width="1.3" stroke-opacity="0.88"/>
<rect x="445.67" y="538.20" width="19.09" height="22.00" fill="#8da1ae" stroke="#fff" stroke-width="1.3" stroke-opacity="0.88"/>
<rect x="445.67" y="560.20" width="19.09" height="14.30" fill="#619e30" stroke="#fff" stroke-width="1.3" stroke-opacity="0.88"/>
<rect x="464.76" y="542.70" width="19.09" height="17.50" fill="#8da1ae" stroke="#fff" stroke-width="1.3" stroke-opacity="0.88"/>
<rect x="464.76" y="560.20" width="19.09" height="14.30" fill="#619e30" stroke="#fff" stroke-width="1.3" stroke-opacity="0.88"/>
<rect x="483.85" y="540.20" width="19.09" height="17.75" fill="#8da1ae" stroke="#fff" stroke-width="1.3" stroke-opacity="0.88"/>
<rect x="483.85" y="557.95" width="19.09" height="16.55" fill="#619e30" stroke="#fff" stroke-width="1.3" stroke-opacity="0.88"/>
<rect x="502.94" y="524.70" width="19.09" height="24.25" fill="#8da1ae" stroke="#fff" stroke-width="1.3" stroke-opacity="0.88"/>
<rect x="502.94" y="548.95" width="19.09" height="25.55" fill="#619e30" stroke="#fff" stroke-width="1.3" stroke-opacity="0.88"/>
<rect x="522.02" y="547.20" width="19.09" height="15.00" fill="#8da1ae" stroke="#fff" stroke-width="1.3" stroke-opacity="0.88"/>
<rect x="522.02" y="562.20" width="19.09" height="12.30" fill="#619e30" stroke="#fff" stroke-width="1.3" stroke-opacity="0.88"/>
<rect x="541.11" y="544.70" width="19.09" height="17.50" fill="#8da1ae" stroke="#fff" stroke-width="1.3" stroke-opacity="0.88"/>
<rect x="541.11" y="562.20" width="19.09" height="12.30" fill="#619e30" stroke="#fff" stroke-width="1.3" stroke-opacity="0.88"/>
<rect x="560.20" y="538.20" width="19.09" height="24.00" fill="#8da1ae" stroke="#fff" stroke-width="1.3" stroke-opacity="0.88"/>
<rect x="560.20" y="562.20" width="19.09" height="12.30" fill="#619e30" stroke="#fff" stroke-width="1.3" stroke-opacity="0.88"/>
<rect x="579.29" y="533.45" width="19.09" height="24.50" fill="#8da1ae" stroke="#fff" stroke-width="1.3" stroke-opacity="0.88"/>
<rect x="579.29" y="557.95" width="19.09" height="16.55" fill="#619e30" stroke="#fff" stroke-width="1.3" stroke-opacity="0.88"/>
<rect x="598.38" y="513.45" width="19.09" height="28.75" fill="#8da1ae" stroke="#fff" stroke-width="1.3" stroke-opacity="0.88"/>
<rect x="598.38" y="542.20" width="19.09" height="32.30" fill="#619e30" stroke="#fff" stroke-width="1.3" stroke-opacity="0.88"/>
<rect x="617.46" y="535.95" width="19.09" height="22.00" fill="#8da1ae" stroke="#fff" stroke-width="1.3" stroke-opacity="0.88"/>
<rect x="617.46" y="557.95" width="19.09" height="16.55" fill="#619e30" stroke="#fff" stroke-width="1.3" stroke-opacity="0.88"/>
<rect x="636.55" y="535.95" width="19.09" height="24.25" fill="#8da1ae" stroke="#fff" stroke-width="1.3" stroke-opacity="0.88"/>
<rect x="636.55" y="560.20" width="19.09" height="14.30" fill="#619e30" stroke="#fff" stroke-width="1.3" stroke-opacity="0.88"/>
<rect x="655.64" y="519.95" width="19.09" height="29.00" fill="#8da1ae" stroke="#fff" stroke-width="1.3" stroke-opacity="0.88"/>
<rect x="655.64" y="548.95" width="19.09" height="25.55" fill="#619e30" stroke="#fff" stroke-width="1.3" stroke-opacity="0.88"/>
<rect x="674.73" y="513.45" width="19.09" height="24.25" fill="#8da1ae" stroke="#fff" stroke-width="1.3" stroke-opacity="0.88"/>
<rect x="674.73" y="537.70" width="19.09" height="36.80" fill="#619e30" stroke="#fff" stroke-width="1.3" stroke-opacity="0.88"/>
<rect x="693.81" y="524.70" width="19.09" height="26.50" fill="#8da1ae" stroke="#fff" stroke-width="1.3" stroke-opacity="0.88"/>
<rect x="693.81" y="551.20" width="19.09" height="23.30" fill="#619e30" stroke="#fff" stroke-width="1.3" stroke-opacity="0.88"/>
<rect x="712.90" y="513.45" width="19.09" height="33.25" fill="#8da1ae" stroke="#fff" stroke-width="1.3" stroke-opacity="0.88"/>
<rect x="712.90" y="546.70" width="19.09" height="27.80" fill="#619e30" stroke="#fff" stroke-width="1.3" stroke-opacity="0.88"/>
<rect x="731.99" y="531.45" width="19.09" height="22.00" fill="#8da1ae" stroke="#fff" stroke-width="1.3" stroke-opacity="0.88"/>
<rect x="731.99" y="553.45" width="19.09" height="21.05" fill="#619e30" stroke="#fff" stroke-width="1.3" stroke-opacity="0.88"/>
<rect x="751.07" y="522.20" width="19.09" height="29.00" fill="#8da1ae" stroke="#fff" stroke-width="1.3" stroke-opacity="0.88"/>
<rect x="751.07" y="551.20" width="19.09" height="23.30" fill="#619e30" stroke="#fff" stroke-width="1.3" stroke-opacity="0.88"/>
<rect x="770.16" y="529.20" width="19.09" height="19.75" fill="#8da1ae" stroke="#fff" stroke-width="1.3" stroke-opacity="0.88"/>
<rect x="770.16" y="548.95" width="19.09" height="25.55" fill="#619e30" stroke="#fff" stroke-width="1.3" stroke-opacity="0.88"/>
<rect x="789.25" y="540.20" width="19.09" height="24.50" fill="#8da1ae" stroke="#fff" stroke-width="1.3" stroke-opacity="0.88"/>
<rect x="789.25" y="564.70" width="19.09" height="9.80" fill="#619e30" stroke="#fff" stroke-width="1.3" stroke-opacity="0.88"/>
<rect x="808.34" y="515.45" width="19.09" height="29.25" fill="#8da1ae" stroke="#fff" stroke-width="1.3" stroke-opacity="0.88"/>
<rect x="808.34" y="544.70" width="19.09" height="29.80" fill="#619e30" stroke="#fff" stroke-width="1.3" stroke-opacity="0.88"/>
<rect x="827.42" y="535.95" width="19.09" height="19.75" fill="#8da1ae" stroke="#fff" stroke-width="1.3" stroke-opacity="0.88"/>
<rect x="827.42" y="555.70" width="19.09" height="18.80" fill="#619e30" stroke="#fff" stroke-width="1.3" stroke-opacity="0.88"/>
<rect x="846.51" y="553.95" width="19.09" height="15.25" fill="#8da1ae" stroke="#fff" stroke-width="1.3" stroke-opacity="0.88"/>
<rect x="846.51" y="569.20" width="19.09" height="5.30" fill="#619e30" stroke="#fff" stroke-width="1.3" stroke-opacity="0.88"/>
<rect x="865.60" y="547.20" width="19.09" height="17.50" fill="#8da1ae" stroke="#fff" stroke-width="1.3" stroke-opacity="0.88"/>
<rect x="865.60" y="564.70" width="19.09" height="9.80" fill="#619e30" stroke="#fff" stroke-width="1.3" stroke-opacity="0.88"/>
<rect x="884.69" y="549.20" width="19.09" height="13.00" fill="#8da1ae" stroke="#fff" stroke-width="1.3" stroke-opacity="0.88"/>
<rect x="884.69" y="562.20" width="19.09" height="12.30" fill="#619e30" stroke="#fff" stroke-width="1.3" stroke-opacity="0.88"/>
<rect x="903.77" y="549.20" width="19.09" height="11.00" fill="#8da1ae" stroke="#fff" stroke-width="1.3" stroke-opacity="0.88"/>
<rect x="903.77" y="560.20" width="19.09" height="14.30" fill="#619e30" stroke="#fff" stroke-width="1.3" stroke-opacity="0.88"/>
<rect x="922.86" y="547.20" width="19.09" height="6.25" fill="#8da1ae" stroke="#fff" stroke-width="1.3" stroke-opacity="0.88"/>
<rect x="922.86" y="553.45" width="19.09" height="21.05" fill="#619e30" stroke="#fff" stroke-width="1.3" stroke-opacity="0.88"/>
<rect x="941.95" y="524.70" width="19.09" height="15.00" fill="#8da1ae" stroke="#fff" stroke-width="1.3" stroke-opacity="0.88"/>
<rect x="941.95" y="539.70" width="19.09" height="34.80" fill="#619e30" stroke="#fff" stroke-width="1.3" stroke-opacity="0.88"/>
<rect x="961.04" y="497.70" width="19.09" height="35.75" fill="#8da1ae" stroke="#fff" stroke-width="1.3" stroke-opacity="0.88"/>
<rect x="961.04" y="533.45" width="19.09" height="41.05" fill="#619e30" stroke="#fff" stroke-width="1.3" stroke-opacity="0.88"/>
<rect x="980.12" y="479.70" width="19.09" height="40.00" fill="#8da1ae" stroke="#fff" stroke-width="1.3" stroke-opacity="0.88"/>
<rect x="980.12" y="519.70" width="19.09" height="54.80" fill="#619e30" stroke="#fff" stroke-width="1.3" stroke-opacity="0.88"/>
<rect x="999.21" y="492.95" width="19.09" height="46.75" fill="#8da1ae" stroke="#fff" stroke-width="1.3" stroke-opacity="0.88"/>
<rect x="999.21" y="539.70" width="19.09" height="34.80" fill="#619e30" stroke="#fff" stroke-width="1.3" stroke-opacity="0.88"/>
<rect x="101.50" y="572.50" width="918.00" height="19.75" fill="#fff"/>
<rect x="102.50" y="572.50" width="229.00" height="19.75" fill="#f4f5f9"/>
<rect x="560.50" y="572.50" width="229.00" height="19.75" fill="#f4f5f9"/>
<line x1="102.3" y1="127.5" x2="1018.5" y2="127.5" stroke="#ccd1d8" stroke-width="1"/>
<line x1="102.3" y1="363.25" x2="1018.5" y2="363.25" stroke="#ccd1d8" stroke-width="1"/>
<line x1="102.3" y1="127.5" x2="102.3" y2="356.75" stroke="#ccd1d8" stroke-width="1"/>
<line x1="102.3" y1="363.25" x2="102.3" y2="621.75" stroke="#ccd1d8" stroke-width="1"/>
<line x1="1018.5" y1="127.5" x2="1018.5" y2="356.75" stroke="#ccd1d8" stroke-width="1"/>
<line x1="1018.5" y1="363.25" x2="1018.5" y2="621.75" stroke="#ccd1d8" stroke-width="1"/>
<line x1="102.3" y1="592.25" x2="1018.5" y2="592.25" stroke="#d5dbe2" stroke-width="1"/>
<line x1="102.3" y1="621.75" x2="1018.5" y2="621.75" stroke="#d8dce2" stroke-width="1"/>
<text x="106.60" y="585.60" font-family="Liberation Sans, sans-serif" font-size="7" font-weight="bold" fill="#7d8993" textLength="20.50" lengthAdjust="spacingAndGlyphs">00:00</text>
<line x1="179.52" y1="572.5" x2="179.52" y2="592.25" stroke="#d5dbe2" stroke-width="1"/>
<text x="183.02" y="585.60" font-family="Liberation Sans, sans-serif" font-size="7" font-weight="bold" fill="#7d8993" textLength="20.50" lengthAdjust="spacingAndGlyphs">02:00</text>
<line x1="255.95" y1="572.5" x2="255.95" y2="592.25" stroke="#d5dbe2" stroke-width="1"/>
<text x="259.45" y="585.60" font-family="Liberation Sans, sans-serif" font-size="7" font-weight="bold" fill="#7d8993" textLength="20.50" lengthAdjust="spacingAndGlyphs">04:00</text>
<line x1="332.37" y1="572.5" x2="332.37" y2="592.25" stroke="#d5dbe2" stroke-width="1"/>
<text x="335.87" y="585.60" font-family="Liberation Sans, sans-serif" font-size="7" font-weight="bold" fill="#7d8993" textLength="20.50" lengthAdjust="spacingAndGlyphs">06:00</text>
<line x1="408.80" y1="572.5" x2="408.80" y2="592.25" stroke="#d5dbe2" stroke-width="1"/>
<text x="412.30" y="585.60" font-family="Liberation Sans, sans-serif" font-size="7" font-weight="bold" fill="#7d8993" textLength="20.50" lengthAdjust="spacingAndGlyphs">08:00</text>
<line x1="485.22" y1="572.5" x2="485.22" y2="592.25" stroke="#d5dbe2" stroke-width="1"/>
<text x="488.72" y="585.60" font-family="Liberation Sans, sans-serif" font-size="7" font-weight="bold" fill="#7d8993" textLength="20.50" lengthAdjust="spacingAndGlyphs">10:00</text>
<line x1="561.64" y1="572.5" x2="561.64" y2="592.25" stroke="#d5dbe2" stroke-width="1"/>
<text x="565.14" y="585.60" font-family="Liberation Sans, sans-serif" font-size="7" font-weight="bold" fill="#7d8993" textLength="20.50" lengthAdjust="spacingAndGlyphs">12:00</text>
<line x1="638.07" y1="572.5" x2="638.07" y2="592.25" stroke="#d5dbe2" stroke-width="1"/>
<text x="641.57" y="585.60" font-family="Liberation Sans, sans-serif" font-size="7" font-weight="bold" fill="#7d8993" textLength="20.50" lengthAdjust="spacingAndGlyphs">14:00</text>
<line x1="714.49" y1="572.5" x2="714.49" y2="592.25" stroke="#d5dbe2" stroke-width="1"/>
<text x="717.99" y="585.60" font-family="Liberation Sans, sans-serif" font-size="7" font-weight="bold" fill="#7d8993" textLength="20.50" lengthAdjust="spacingAndGlyphs">16:00</text>
<line x1="790.92" y1="572.5" x2="790.92" y2="592.25" stroke="#d5dbe2" stroke-width="1"/>
<text x="794.42" y="585.60" font-family="Liberation Sans, sans-serif" font-size="7" font-weight="bold" fill="#7d8993" textLength="20.50" lengthAdjust="spacingAndGlyphs">18:00</text>
<line x1="867.34" y1="572.5" x2="867.34" y2="592.25" stroke="#d5dbe2" stroke-width="1"/>
<text x="870.84" y="585.60" font-family="Liberation Sans, sans-serif" font-size="7" font-weight="bold" fill="#7d8993" textLength="20.50" lengthAdjust="spacingAndGlyphs">20:00</text>
<line x1="943.76" y1="572.5" x2="943.76" y2="592.25" stroke="#d5dbe2" stroke-width="1"/>
<text x="947.26" y="585.60" font-family="Liberation Sans, sans-serif" font-size="7" font-weight="bold" fill="#7d8993" textLength="20.50" lengthAdjust="spacingAndGlyphs">22:00</text>
<text x="108.20" y="130.00" font-family="Liberation Sans, sans-serif" font-size="7" font-weight="bold" fill="#132533" fill-opacity="0.5" textLength="12.60" lengthAdjust="spacingAndGlyphs">100</text>
<text x="108.20" y="366.15" font-family="Liberation Sans, sans-serif" font-size="7" font-weight="bold" fill="#132533" fill-opacity="0.5" textLength="12.60" lengthAdjust="spacingAndGlyphs">100</text>
<text x="108.20" y="154.56" font-family="Liberation Sans, sans-serif" font-size="7" font-weight="bold" fill="#132533" fill-opacity="0.5" textLength="7.70" lengthAdjust="spacingAndGlyphs">90</text>
<text x="108.20" y="388.60" font-family="Liberation Sans, sans-serif" font-size="7" font-weight="bold" fill="#132533" fill-opacity="0.5" textLength="7.70" lengthAdjust="spacingAndGlyphs">90</text>
<text x="108.20" y="179.12" font-family="Liberation Sans, sans-serif" font-size="7" font-weight="bold" fill="#132533" fill-opacity="0.5" textLength="7.70" lengthAdjust="spacingAndGlyphs">80</text>
<text x="108.20" y="411.05" font-family="Liberation Sans, sans-serif" font-size="7" font-weight="bold" fill="#132533" fill-opacity="0.5" textLength="7.70" lengthAdjust="spacingAndGlyphs">80</text>
<text x="108.20" y="203.68" font-family="Liberation Sans, sans-serif" font-size="7" font-weight="bold" fill="#132533" fill-opacity="0.5" textLength="7.70" lengthAdjust="spacingAndGlyphs">70</text>
<text x="108.20" y="433.50" font-family="Liberation Sans, sans-serif" font-size="7" font-weight="bold" fill="#132533" fill-opacity="0.5" textLength="7.70" lengthAdjust="spacingAndGlyphs">70</text>
<text x="108.20" y="228.24" font-family="Liberation Sans, sans-serif" font-size="7" font-weight="bold" fill="#132533" fill-opacity="0.5" textLength="7.70" lengthAdjust="spacingAndGlyphs">60</text>
<text x="108.20" y="455.95" font-family="Liberation Sans, sans-serif" font-size="7" font-weight="bold" fill="#132533" fill-opacity="0.5" textLength="7.70" lengthAdjust="spacingAndGlyphs">60</text>
<text x="108.20" y="252.80" font-family="Liberation Sans, sans-serif" font-size="7" font-weight="bold" fill="#22323f" fill-opacity="0.32" textLength="7.70" lengthAdjust="spacingAndGlyphs">50</text>
<text x="108.20" y="478.40" font-family="Liberation Sans, sans-serif" font-size="7" font-weight="bold" fill="#132533" fill-opacity="0.5" textLength="7.70" lengthAdjust="spacingAndGlyphs">50</text>
<text x="108.20" y="277.36" font-family="Liberation Sans, sans-serif" font-size="7" font-weight="bold" fill="#22323f" fill-opacity="0.32" textLength="7.70" lengthAdjust="spacingAndGlyphs">40</text>
<text x="108.20" y="500.85" font-family="Liberation Sans, sans-serif" font-size="7" font-weight="bold" fill="#22323f" fill-opacity="0.32" textLength="7.70" lengthAdjust="spacingAndGlyphs">40</text>
<text x="108.20" y="301.92" font-family="Liberation Sans, sans-serif" font-size="7" font-weight="bold" fill="#22323f" fill-opacity="0.32" textLength="7.70" lengthAdjust="spacingAndGlyphs">30</text>
<text x="108.20" y="523.30" font-family="Liberation Sans, sans-serif" font-size="7" font-weight="bold" fill="#22323f" fill-opacity="0.32" textLength="7.70" lengthAdjust="spacingAndGlyphs">30</text>
<text x="108.20" y="326.48" font-family="Liberation Sans, sans-serif" font-size="7" font-weight="bold" fill="#22323f" fill-opacity="0.32" textLength="7.70" lengthAdjust="spacingAndGlyphs">20</text>
<text x="108.20" y="545.75" font-family="Liberation Sans, sans-serif" font-size="7" font-weight="bold" fill="#22323f" fill-opacity="0.32" textLength="7.70" lengthAdjust="spacingAndGlyphs">20</text>
<text x="108.20" y="351.04" font-family="Liberation Sans, sans-serif" font-size="7" font-weight="bold" fill="#22323f" fill-opacity="0.32" textLength="7.70" lengthAdjust="spacingAndGlyphs">10</text>
<text x="108.20" y="568.20" font-family="Liberation Sans, sans-serif" font-size="7" font-weight="bold" fill="#22323f" fill-opacity="0.32" textLength="7.70" lengthAdjust="spacingAndGlyphs">10</text>
<text transform="translate(95.6,243.4) rotate(-90)" font-family="Liberation Sans, sans-serif" font-size="9.6" fill="#4f6d7c" text-anchor="middle" stroke="#4f6d7c" stroke-width="0.2" textLength="83.3" lengthAdjust="spacingAndGlyphs">% de vaches debout</text>
<text transform="translate(95.1,478.8) rotate(-90)" font-family="Liberation Sans, sans-serif" font-size="9.6" fill="#4f6d7c" text-anchor="middle" stroke="#4f6d7c" stroke-width="0.2" textLength="92.7" lengthAdjust="spacingAndGlyphs">% de vaches couchées</text>
<text x="107.50" y="611.00" font-family="Liberation Sans, sans-serif" font-size="10" font-weight="normal" fill="#4f6d7c" textLength="35.00" lengthAdjust="spacingAndGlyphs" stroke="#4f6d7c" stroke-width="0.2">Légende</text>
<rect x="226.75" y="603.30" width="9.00" height="9.00" fill="#e8342f"/>
<text x="240.05" y="611.00" font-family="Liberation Sans, sans-serif" font-size="10" font-weight="bold" fill="#434c55" textLength="53.00" lengthAdjust="spacingAndGlyphs">Autre activité</text>
<rect x="423.25" y="603.30" width="9.00" height="9.00" fill="#8da1ae"/>
<text x="436.55" y="611.00" font-family="Liberation Sans, sans-serif" font-size="10" font-weight="bold" fill="#434c55" textLength="37.50" lengthAdjust="spacingAndGlyphs">Inactivité</text>
<rect x="620.00" y="603.30" width="9.00" height="9.00" fill="#f9ae1b"/>
<text x="633.30" y="611.00" font-family="Liberation Sans, sans-serif" font-size="10" font-weight="bold" fill="#434c55" textLength="35.50" lengthAdjust="spacingAndGlyphs">Ingestion</text>
<rect x="816.75" y="603.30" width="9.00" height="9.00" fill="#619e30"/>
<text x="830.05" y="611.00" font-family="Liberation Sans, sans-serif" font-size="10" font-weight="bold" fill="#434c55" textLength="46.00" lengthAdjust="spacingAndGlyphs">Rumination</text>
</svg>
</body></html>
